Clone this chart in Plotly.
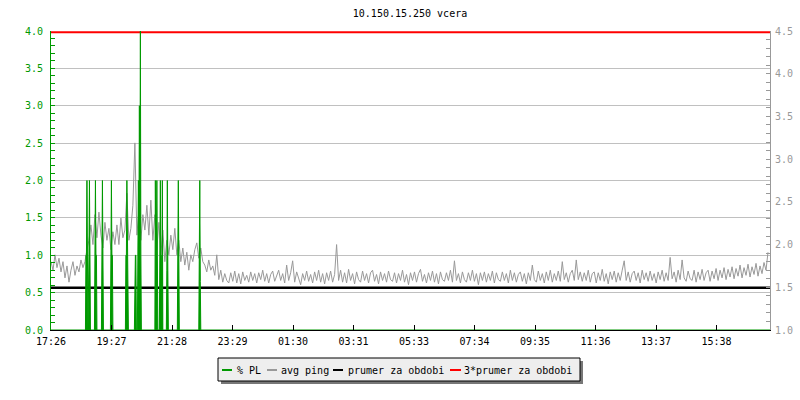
import plotly.graph_objects as go

# ---------------- data ----------------
title = "10.150.15.250 vcera"
series_names = ["% PL", "avg ping", "prumer za obdobi", "3*prumer za obdobi"]
tick_labels = ["17:26", "19:27", "21:28", "23:29", "01:30", "03:31",
               "05:33", "07:34", "09:35", "11:36", "13:37", "15:38"]
tick_step_min = 121.17          # minutes between time labels
x_span_min = [0, 1440]          # one day, in minutes from 17:26
ping_step_min = 4               # minutes between avg ping samples

avg_ping = [
    1.80, 1.70, 1.88, 1.73, 1.84, 1.68, 1.80, 1.61, 1.75, 1.56, 1.70, 1.80, 1.64, 1.75, 1.68, 1.82, 1.73, 1.80,
    1.94, 2.05, 2.23, 2.00, 2.35, 2.08, 2.38,
    2.11, 1.96, 2.26, 2.05, 2.19, 1.94, 2.15, 2.00,
    2.23, 2.00, 2.31, 2.08, 2.17, 2.60, 2.05,
    2.19, 2.46, 3.19, 2.11, 2.40, 2.05, 2.35, 2.17, 2.46, 2.11,
    2.52, 2.05, 2.35, 1.94, 2.26,
    1.88, 2.17, 1.80, 2.05, 1.88,
    2.11, 1.94, 2.19, 1.88, 2.05,
    1.80, 1.96, 1.76, 1.91, 1.70, 1.88, 1.80, 1.94,
    2.02, 1.84, 1.96, 1.80,
    1.76, 1.68, 1.82, 1.70, 1.75, 1.64,
    1.88, 1.59, 1.70, 1.56, 1.66, 1.58, 1.55, 1.67, 1.57, 1.69, 1.55, 1.66, 1.54, 1.68, 1.58,
    1.64, 1.56, 1.68, 1.58, 1.66, 1.55, 1.67, 1.59, 1.70, 1.57,
    1.66, 1.55, 1.65, 1.69, 1.57, 1.64, 1.70, 1.58, 1.66, 1.55,
    1.76, 1.58, 1.67, 1.81, 1.56, 1.68, 1.59, 1.53, 1.66, 1.58,
    1.69, 1.57, 1.65, 1.55, 1.68, 1.58, 1.70, 1.56, 1.66, 1.54,
    1.67, 1.58, 1.69, 1.56, 1.65, 2.00, 1.58, 1.70, 1.56, 1.67,
    1.55, 1.71, 1.58, 1.66, 1.54, 1.68, 1.59, 1.56, 1.69, 1.58,
    1.66, 1.55, 1.67, 1.70, 1.57, 1.65, 1.54, 1.68, 1.58, 1.66,
    1.56, 1.69, 1.59, 1.57, 1.67, 1.55, 1.66, 1.58, 1.70, 1.56,
    1.65, 1.53, 1.67, 1.58, 1.68, 1.56, 1.66, 1.71, 1.57, 1.65,
    1.55, 1.67, 1.58, 1.69, 1.56, 1.66, 1.54, 1.68, 1.59, 1.57,
    1.67, 1.58, 1.70, 1.56, 1.81, 1.58, 1.66, 1.55, 1.68, 1.59,
    1.56, 1.67, 1.58, 1.70, 1.57, 1.66, 1.53, 1.67, 1.58, 1.68,
    1.56, 1.66, 1.58, 1.69, 1.55, 1.67, 1.59, 1.57, 1.68, 1.58,
    1.66, 1.55, 1.70, 1.58, 1.67, 1.56, 1.65, 1.68, 1.57, 1.66,
    1.54, 1.67, 1.58, 1.76, 1.59, 1.56, 1.69, 1.58, 1.66, 1.55,
    1.68, 1.58, 1.70, 1.56, 1.66, 1.58, 1.69, 1.57, 1.80, 1.59,
    1.67, 1.56, 1.66, 1.70, 1.58, 1.82, 1.59, 1.68, 1.57, 1.67,
    1.58, 1.70, 1.56, 1.66, 1.68, 1.55, 1.67, 1.58, 1.71, 1.57,
    1.66, 1.54, 1.68, 1.59, 1.69, 1.56, 1.67, 1.58, 1.70, 1.81,
    1.58, 1.68, 1.56, 1.66, 1.69, 1.58, 1.67, 1.55, 1.70, 1.59,
    1.67, 1.57, 1.69, 1.58, 1.66, 1.55, 1.68, 1.59, 1.70, 1.57,
    1.67, 1.58, 1.85, 1.60, 1.68, 1.56, 1.70, 1.59, 1.82, 1.61,
    1.57, 1.69, 1.60, 1.58, 1.70, 1.56, 1.68, 1.59, 1.71, 1.58,
    1.67, 1.70, 1.57, 1.69, 1.60, 1.72, 1.58, 1.70, 1.61, 1.73,
    1.59, 1.71, 1.62, 1.74, 1.60, 1.72, 1.63, 1.76, 1.61, 1.73,
    1.64, 1.77, 1.62, 1.74, 1.65, 1.78, 1.63, 1.75, 1.66, 1.79,
    1.70, 1.91,
]

# packet loss (%) : sample minute and value (zero elsewhere)
pl_minute = [0,
             69, 70, 71, 72, 73, 74,
             76, 77, 78, 79,
             87, 88, 89, 90, 91, 92,
             101, 102, 103, 104, 105,
             119, 120, 121, 122, 123, 124,
             149, 150, 151, 152, 153, 154, 155,
             167, 168, 169, 170, 171,
             173, 174, 175, 176, 177, 178, 179, 180, 181,
             208, 209, 210, 211, 212, 213, 214,
             217, 218, 219, 220, 221, 222, 223, 224,
             231, 232, 233, 234, 235,
             253, 254, 255, 256, 257,
             296, 297, 298, 299, 300,
             1440]
pl_value = [0,
            0, 1, 1, 2, 1, 0,
            1, 2, 1, 0,
            0, 1, 2, 1, 1, 0,
            0, 1, 2, 1, 0,
            0, 1, 2, 1, 1, 0,
            0, 1, 1, 2, 1, 1, 0,
            0, 1, 1, 1, 0,
            0, 1.3, 2, 1.3, 3, 1.3, 4, 1, 0,
            0, 2, 1, 1, 2, 1, 0,
            0, 1, 2, 1, 1, 0, 2, 0,
            0, 0.8, 2, 0.8, 0,
            0, 1, 2, 1, 0,
            0, 0.65, 2, 0.65, 0,
            0]

prumer = 1.495      # average ping for the period
prumer3 = 4.485     # three times the average

# ---------------- styling ----------------
GREEN = "#009900"
GRAY = "#999999"
FONT = "DejaVu Sans Mono"

ping_minute = [i * ping_step_min for i in range(len(avg_ping))]

fig = go.Figure()
fig.add_trace(go.Scatter(x=ping_minute, y=avg_ping, mode="lines", name=series_names[1],
                         line=dict(color=GRAY, width=1), yaxis="y"))
fig.add_trace(go.Scatter(x=x_span_min, y=[prumer, prumer], mode="lines", name=series_names[2],
                         line=dict(color="black", width=2.5), yaxis="y"))
fig.add_trace(go.Scatter(x=x_span_min, y=[prumer3, prumer3], mode="lines", name=series_names[3],
                         line=dict(color="#ff0000", width=2), yaxis="y"))
fig.add_trace(go.Scatter(x=pl_minute, y=pl_value, mode="lines", name=series_names[0],
                         line=dict(color=GREEN, width=1), fill="tozeroy",
                         fillcolor=GREEN, yaxis="y2"))

L, R, T, B = 51, 770, 31, 330
def pxx(p):
    return (p - L) / (R - L)
def pxy(p):
    return (B - p) / (B - T)

tick_vals = [k * tick_step_min for k in range(len(tick_labels))]

shapes = []
annotations = []
# custom legend box with drop shadow
shapes.append(dict(type="rect", xref="paper", yref="paper",
                   x0=pxx(221), x1=pxx(583), y0=pxy(361), y1=pxy(384),
                   fillcolor="#777777", line=dict(width=0), layer="above"))
shapes.append(dict(type="rect", xref="paper", yref="paper",
                   x0=pxx(218), x1=pxx(580), y0=pxy(358), y1=pxy(381),
                   fillcolor="#eeeeee", line=dict(color="black", width=1), layer="above"))
legend_items = [
    (GREEN, 222, 232, 235, series_names[0]),
    (GRAY, 267, 277, 279, series_names[1]),
    ("black", 333, 343, 346, series_names[2]),
    ("#ff0000", 450, 461, 462, series_names[3]),
]
for col, lx0, lx1, tx, txt in legend_items:
    shapes.append(dict(type="line", xref="paper", yref="paper",
                       x0=pxx(lx0), x1=pxx(lx1), y0=pxy(370), y1=pxy(370),
                       line=dict(color=col, width=2), layer="above"))
    annotations.append(dict(text=txt, xref="paper", yref="paper", x=pxx(tx), y=pxy(370),
                            xanchor="left", yanchor="middle", showarrow=False,
                            font=dict(family=FONT, size=10, color="black")))

fig.update_layout(
    width=800, height=400, autosize=False,
    margin=dict(l=L, r=800 - R, t=T, b=400 - B),
    plot_bgcolor="white", paper_bgcolor="white",
    showlegend=False,
    font=dict(family=FONT, size=10, color="black"),
    title=dict(text=title, x=410 / 800, xanchor="center",
               y=1 - 13 / 400, yanchor="middle", yref="container",
               font=dict(family=FONT, size=10, color="black")),
    xaxis=dict(range=x_span_min, showgrid=False, zeroline=False, automargin=False,
               showline=True, linecolor="black", linewidth=1,
               ticks="inside", ticklen=5, tickcolor="black",
               tickvals=tick_vals, ticktext=tick_labels, ticklabelstandoff=2,
               tickfont=dict(family=FONT, size=10, color="black")),
    yaxis=dict(range=[1.0, 4.5], side="right", tick0=1.0, dtick=0.5, tickformat=".1f",
               showgrid=False, zeroline=False, automargin=False,
               showline=True, linecolor=GRAY, linewidth=1,
               ticks="inside", ticklen=4, tickcolor=GRAY, ticklabelstandoff=2,
               tickfont=dict(family=FONT, size=10, color=GRAY),
               minor=dict(dtick=0.1, ticks="inside", ticklen=4, tickcolor=GRAY, showgrid=False)),
    yaxis2=dict(range=[0, 4], side="left", overlaying="y", tick0=0, dtick=0.5, tickformat=".1f",
                showgrid=True, gridcolor="#c0c0c0", gridwidth=1, zeroline=False, automargin=False,
                showline=True, linecolor=GREEN, linewidth=1,
                ticks="inside", ticklen=4, tickcolor=GREEN, ticklabelstandoff=5,
                tickfont=dict(family=FONT, size=10, color=GREEN),
                minor=dict(dtick=0.1, ticks="inside", ticklen=4, tickcolor=GREEN, showgrid=False)),
    shapes=shapes,
    annotations=annotations,
)

fig.write_html("out.html", config={"displayModeBar": False},
               post_script="document.body.style.margin='0px';")
